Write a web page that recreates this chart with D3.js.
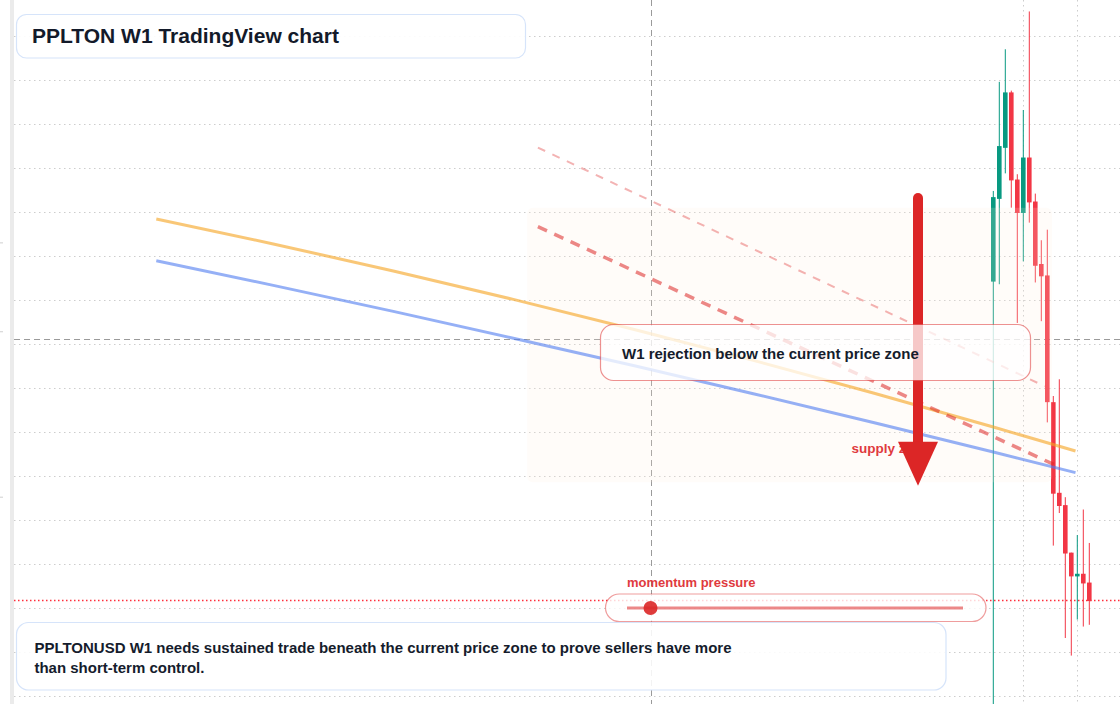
<!DOCTYPE html>
<html><head><meta charset="utf-8">
<script src="https://cdn.jsdelivr.net/npm/d3@7"></script>
<style>html,body{margin:0;padding:0;background:#fff;overflow:hidden;} svg{display:block;font-family:"Liberation Sans",Arial,Helvetica,sans-serif;}</style>
</head><body><svg id="c" width="1120" height="704"></svg>
<script>
// ---- data (weekly candles, index 0..16) ----
const weekIndex = [0,1,2,3,4,5,6,7,8,9,10,11,12,13,14,15,16];
const opens  = [1.371,1.465,1.523,1.586,1.487,1.449,1.512,1.462,1.391,1.378,1.234,1.131,1.117,1.063,1.036,1.039,1.029];
const highs  = [1.474,1.598,1.635,1.588,1.493,1.566,1.678,1.471,1.418,1.430,1.241,1.260,1.126,1.063,1.083,1.112,1.074];
const lows   = [0.850,1.368,1.494,1.455,1.324,1.394,1.438,1.370,1.326,1.211,1.071,1.108,0.966,0.946,0.987,0.979,0.981];
const closes = [1.467,1.525,1.586,1.486,1.449,1.512,1.461,1.389,1.377,1.234,1.130,1.116,1.062,1.036,1.039,1.028,1.008];

// moving-average style curves: [week index, price]
const curveIdx    = [-139.5,-120,-100,-80,-60,-40,-20,0,13.7];
const yellowCurve = [1.4421,1.4138,1.3831,1.3508,1.3169,1.2815,1.2444,1.2058,1.1785];
const blueCurve   = [1.3947,1.3667,1.3372,1.3067,1.2756,1.2436,1.2109,1.1773,1.1539];

// descending trend lines: [startIdx, startPrice, endIdx, endPrice]
const trendMain  = [-75.9, 1.4335, 11.1, 1.160];
const trendUpper = [-75.9, 1.5233, 8.6, 1.252];

// supply zone
const zoneIdx   = [-77.7, 9.8];
const zonePrice = [1.455, 1.143];

// arrow
const arrowIdx = -12.55;
const arrowPrice = [1.466, 1.139];

const crossIdx = -57.05, crossPrice = 1.306;
const currentPrice = 1.008;
const gridPrices = [0.90,0.95,1.00,1.05,1.10,1.15,1.20,1.25,1.30,1.35,1.40,1.45,1.50,1.55,1.60,1.65];
const gridWeeks = [5,14];
const leftMarks = [1.415,1.314,1.126];
const momentum = 0.07;

const titleText = "PPLTON W1 TradingView chart";
const noteText = "W1 rejection below the current price zone";
const zoneLabel = "supply zone";
const momentumLabel = "momentum pressure";
const footerLines = ["PPLTONUSD W1 needs sustained trade beneath the current price zone to prove sellers have more","than short-term control."];

// ---- drawing ----
const W = 1120, H = 704;
const svg = d3.select("#c");
const x = d3.scaleLinear().domain([0,16]).range([993.3,1089.3]);
const y = d3.scaleLinear().domain([0.891,1.691]).range([H,0]);
const plotL = 14;

svg.append("rect").attr("width",W).attr("height",H).attr("fill","#fff");
svg.append("rect").attr("x",10).attr("y",0).attr("width",4).attr("height",H).attr("fill","#ebebeb");
svg.selectAll(".lm").data(leftMarks).join("line")
  .attr("x1",0).attr("x2",3).attr("y1",d=>y(d)).attr("y2",d=>y(d))
  .attr("stroke","#cfcfcf").attr("stroke-width",1);

const defs = svg.append("defs");
defs.append("clipPath").attr("id","plot").append("rect").attr("x",plotL).attr("y",0).attr("width",W-plotL).attr("height",H);
const g = svg.append("g").attr("clip-path","url(#plot)");

// grid
g.selectAll(".hg").data(gridPrices).join("line")
  .attr("x1",plotL).attr("x2",W).attr("y1",d=>Math.round(y(d))+0.5).attr("y2",d=>Math.round(y(d))+0.5)
  .attr("stroke","#cdcdcd").attr("stroke-dasharray","1.5,3.5");
g.selectAll(".vg").data(gridWeeks).join("line")
  .attr("y1",0).attr("y2",H).attr("x1",d=>Math.round(x(d))+0.5).attr("x2",d=>Math.round(x(d))+0.5)
  .attr("stroke","#cdcdcd").attr("stroke-dasharray","1.5,3.5");

// crosshair
g.append("line").attr("x1",Math.round(x(crossIdx))+0.5).attr("x2",Math.round(x(crossIdx))+0.5).attr("y1",0).attr("y2",H)
  .attr("stroke","#9a9a9a").attr("stroke-dasharray","6,4");
g.append("line").attr("x1",plotL).attr("x2",W).attr("y1",Math.round(y(crossPrice))+0.5).attr("y2",Math.round(y(crossPrice))+0.5)
  .attr("stroke","#9a9a9a").attr("stroke-dasharray","6,4");

// current price line
const cpY = Math.floor(y(currentPrice)) - 0.5;
g.append("line").attr("x1",plotL).attr("x2",W).attr("y1",cpY).attr("y2",cpY)
  .attr("stroke","#ff2d3a").attr("stroke-width",1.3).attr("stroke-dasharray","1.5,2.5");

// candles
const candles = weekIndex.map((w,i)=>({w,o:opens[i],h:highs[i],l:lows[i],c:closes[i]}));
const green = "#089981", red = "#f23645";
const cg = g.append("g");
cg.selectAll(".wick").data(candles).join("line")
  .attr("x1",d=>x(d.w)).attr("x2",d=>x(d.w)).attr("y1",d=>y(d.h)).attr("y2",d=>y(d.l))
  .attr("stroke",d=>d.c>=d.o?green:red).attr("stroke-width",1);
const bw = 4.6;
cg.selectAll(".body").data(candles).join("rect")
  .attr("x",d=>x(d.w)-bw/2).attr("width",bw)
  .attr("y",d=>y(Math.max(d.o,d.c)))
  .attr("height",d=>Math.max(1,Math.abs(y(d.o)-y(d.c))))
  .attr("fill",d=>d.c>=d.o?green:red);

// zone
g.append("rect").attr("x",x(zoneIdx[0])).attr("y",y(zonePrice[0]))
  .attr("width",x(zoneIdx[1])-x(zoneIdx[0])).attr("height",y(zonePrice[1])-y(zonePrice[0]))
  .attr("rx",6).attr("fill","rgba(255,236,220,0.18)");

// curves
const line = d3.line().x(d=>x(d[0])).y(d=>y(d[1])).curve(d3.curveMonotoneX);
g.append("path").attr("d",line(curveIdx.map((w,i)=>[w,yellowCurve[i]])))
  .attr("fill","none").attr("stroke","#f5a524").attr("stroke-opacity",0.62).attr("stroke-width",3);
g.append("path").attr("d",line(curveIdx.map((w,i)=>[w,blueCurve[i]])))
  .attr("fill","none").attr("stroke","#4f7cf0").attr("stroke-opacity",0.6).attr("stroke-width",3);

// trend lines
g.append("line").attr("x1",x(trendUpper[0])).attr("y1",y(trendUpper[1])).attr("x2",x(trendUpper[2])).attr("y2",y(trendUpper[3]))
  .attr("stroke","#dc2626").attr("stroke-opacity",0.35).attr("stroke-width",2).attr("stroke-dasharray","8,8");
g.append("line").attr("x1",x(trendMain[0])).attr("y1",y(trendMain[1])).attr("x2",x(trendMain[2])).attr("y2",y(trendMain[3]))
  .attr("stroke","#dc2626").attr("stroke-opacity",0.55).attr("stroke-width",3.5).attr("stroke-dasharray","10,8");

// supply label
g.append("text").attr("x",851.5).attr("y",452.5).text(zoneLabel)
  .attr("font-size",13.5).attr("font-weight","bold").attr("fill","#e03a3e");

// arrow
const ax = x(arrowIdx), aTop = y(arrowPrice[0]), aTip = y(arrowPrice[1]), headLen = 44, headHalf = 20;
g.append("line").attr("x1",ax).attr("x2",ax).attr("y1",aTop).attr("y2",aTip-headLen+4)
  .attr("stroke","#dc2626").attr("stroke-width",10).attr("stroke-linecap","round");
g.append("path").attr("d",`M${ax-headHalf},${aTip-headLen} L${ax+headHalf},${aTip-headLen} L${ax},${aTip} Z`)
  .attr("fill","#dc2626");

// annotation box
svg.append("rect").attr("x",600.5).attr("y",324.5).attr("width",430).attr("height",56).attr("rx",13)
  .attr("fill","rgba(255,255,255,0.75)").attr("stroke","rgba(220,38,38,0.5)").attr("stroke-width",1.2);
svg.append("text").attr("x",622).attr("y",359).text(noteText)
  .attr("font-size",15).attr("font-weight","bold").attr("fill","#151c2c");

// title box
svg.append("rect").attr("x",16.5).attr("y",14.5).attr("width",509).attr("height",43.5).attr("rx",10)
  .attr("fill","rgba(255,255,255,0.92)").attr("stroke","#d6e4fa").attr("stroke-width",1.2);
svg.append("text").attr("x",32).attr("y",43.3).text(titleText)
  .attr("font-size",21).attr("font-weight","bold").attr("fill","#131a2a");

// momentum pill
svg.append("text").attr("x",627).attr("y",587.3).text(momentumLabel)
  .attr("font-size",13).attr("font-weight","bold").attr("fill","#e03a3e");
svg.append("rect").attr("x",605.5).attr("y",594).attr("width",380.5).attr("height",27.5).attr("rx",13.75)
  .attr("fill","rgba(255,255,255,0.8)").attr("stroke","rgba(220,38,38,0.45)").attr("stroke-width",1.2);
const m = d3.scaleLinear().domain([0,1]).range([627,963]);
svg.append("line").attr("x1",m(0)).attr("x2",m(1)).attr("y1",608).attr("y2",608)
  .attr("stroke","#dc2626").attr("stroke-opacity",0.55).attr("stroke-width",3);
svg.append("circle").attr("cx",m(momentum)).attr("cy",608).attr("r",7).attr("fill","#dc2626").attr("fill-opacity",0.9);

// footer box
svg.append("rect").attr("x",16.5).attr("y",622.5).attr("width",929.5).attr("height",67.5).attr("rx",12)
  .attr("fill","rgba(255,255,255,0.88)").attr("stroke","#d6e4fa").attr("stroke-width",1.2);
svg.selectAll(".ft").data(footerLines).join("text")
  .attr("x",34.4).attr("y",(d,i)=>653.3+i*20).text(d=>d)
  .attr("font-size",15).attr("font-weight","bold").attr("fill","#151c2c");
</script></body></html>
